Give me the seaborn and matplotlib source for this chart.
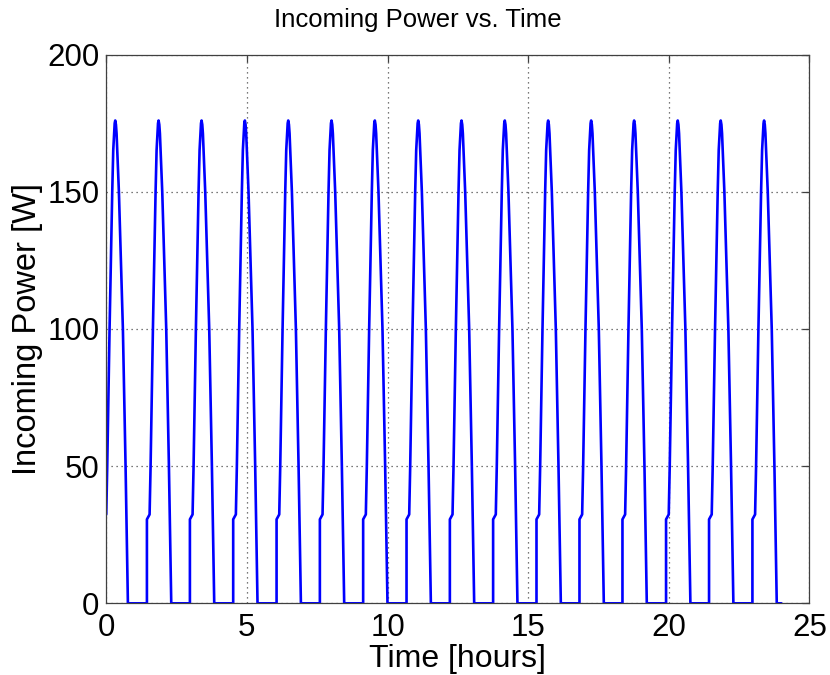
import matplotlib
matplotlib.use("Agg")
import matplotlib.pyplot as plt
import numpy as np
import pandas as pd
import seaborn as sns

# One orbit of incoming power, measured from the moment the craft leaves eclipse
orbit_dt_hours = [0.0, 0.0, 0.095, 0.130, 0.213, 0.308, 0.344, 0.395, 0.415,
                  0.440, 0.462, 0.545, 0.687, 0.782, 0.865]
orbit_power_w = [0.0, 30.6, 32.4, 49.8, 99.9, 150.0, 165.2, 175.0, 176.0,
                 174.5, 171.3, 150.0, 100.0, 50.0, 0.0]

# Eclipse exit times over the day [hours]
sunrise_hours = [-0.095, 1.446, 2.974, 4.513, 6.055, 7.594, 9.133, 10.675,
                 12.215, 13.753, 15.295, 16.823, 18.351, 19.901, 21.429, 22.971]

end_hours = 24.0

x_ticks = [0, 5, 10, 15, 20, 25]
y_ticks = [0, 50, 100, 150, 200]

# Assemble the power history from the orbit profile
times, powers = [], []
for start in sunrise_hours:
    for dt, p in zip(orbit_dt_hours, orbit_power_w):
        t = start + dt
        if t >= 0:
            times.append(t)
            powers.append(p)
times.append(end_hours)
powers.append(0.0)
df = pd.DataFrame({"Time [hours]": times, "Incoming Power [W]": powers})

sns.set_theme(style="white")
plt.rcParams["font.family"] = ["Liberation Sans", "DejaVu Sans"]
plt.rcParams.update({
    "text.color": "black",
    "axes.labelcolor": "black",
    "xtick.color": "black",
    "ytick.color": "black",
})

fig = plt.figure(figsize=(8.3, 6.75), dpi=100)
ax = fig.add_axes([0.128, 0.1062, 0.8473, 0.8128])

sns.lineplot(data=df, x="Time [hours]", y="Incoming Power [W]", ax=ax,
             estimator=None, sort=False, color=(0, 0, 1), linewidth=1.9)

ax.set_xlim(0, 25)
ax.set_ylim(0, 200)
ax.set_xticks(x_ticks)
ax.set_yticks(y_ticks)

ax.grid(True, color="0.3", linestyle=(0, (1, 3)), linewidth=0.9)
ax.set_axisbelow(True)

for spine in ax.spines.values():
    spine.set_visible(True)
    spine.set_color("0.25")
    spine.set_linewidth(0.9)

ax.tick_params(direction="in", length=5, width=0.9, color="0.25",
               top=True, right=True, labelsize=22.5, pad=5)
for lbl in ax.get_xticklabels():
    lbl.set_y(-0.005)

ax.set_title("Incoming Power vs. Time", fontsize=18.5, x=0.443, pad=20)
ax.set_xlabel("Time [hours]", fontsize=23, labelpad=1)
ax.set_ylabel("Incoming Power [W]", fontsize=23.5, labelpad=3)

fig.savefig("out.png", dpi=100)
